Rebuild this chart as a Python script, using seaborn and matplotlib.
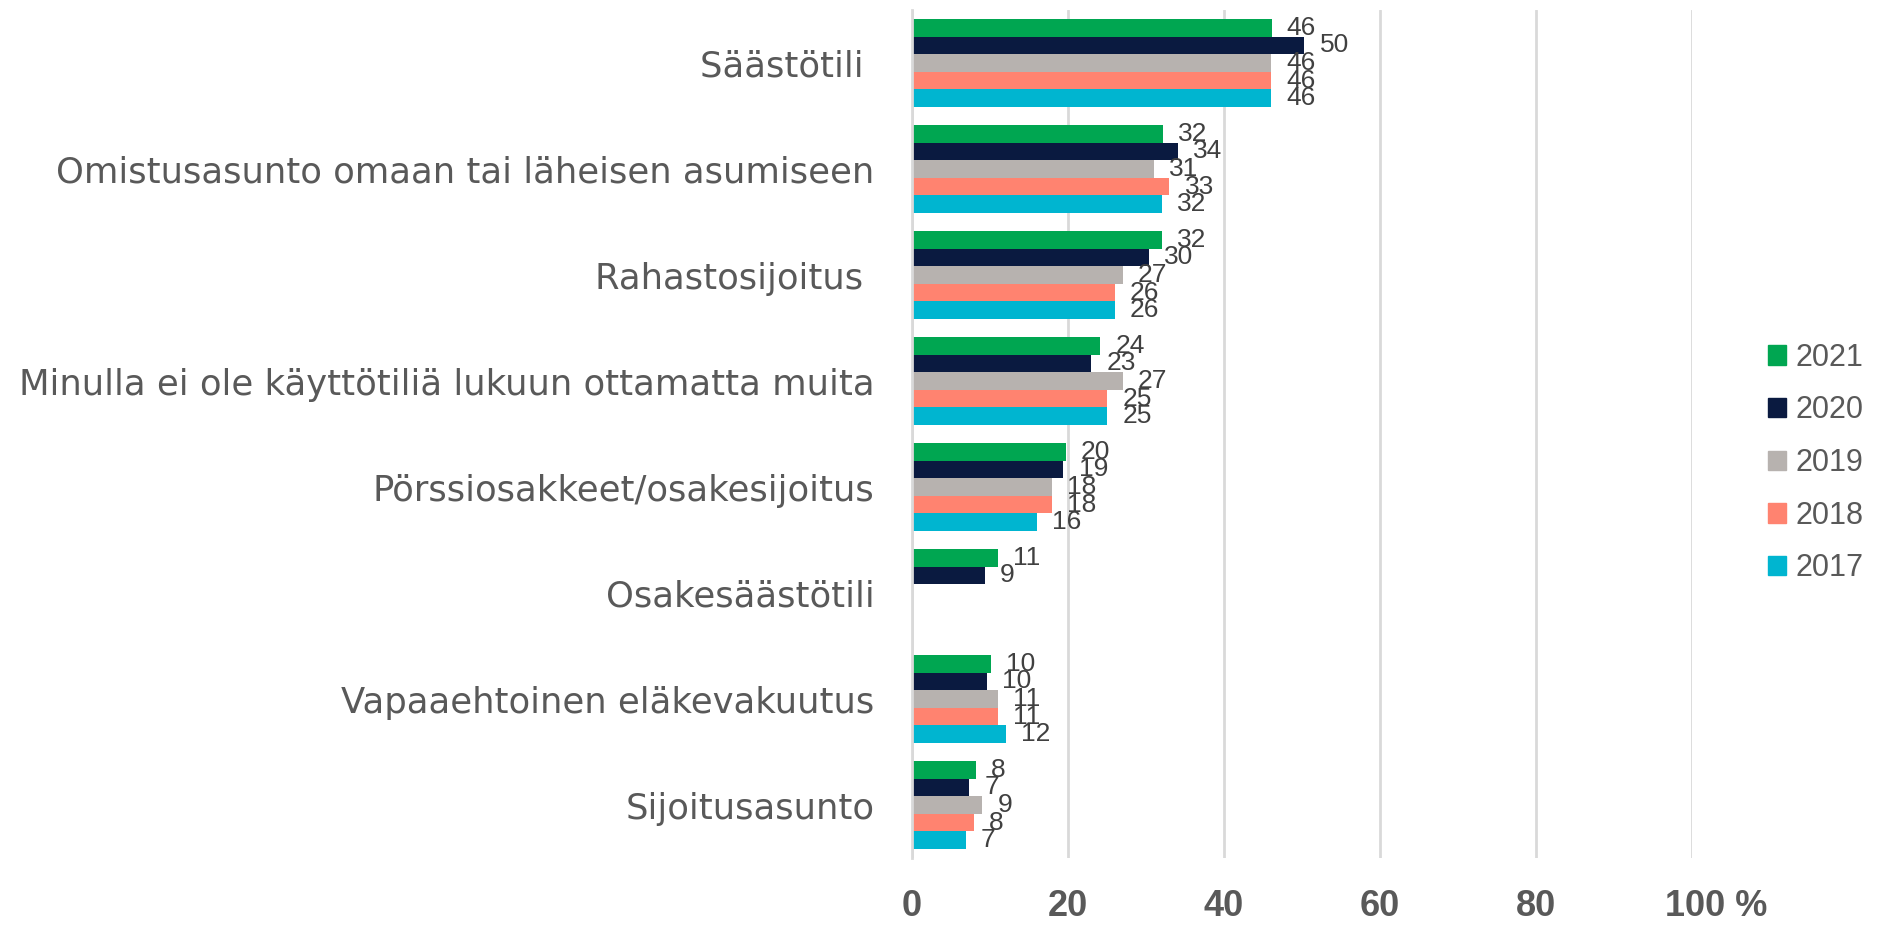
import numpy as np
import pandas as pd
import matplotlib
matplotlib.use("Agg")
import matplotlib.pyplot as plt
import matplotlib.transforms as mtransforms
import seaborn as sns

categories = [
    "Säästötili ",
    "Omistusasunto omaan tai läheisen asumiseen",
    "Rahastosijoitus ",
    "Minulla ei ole käyttötiliä lukuun ottamatta muita",
    "Pörssiosakkeet/osakesijoitus",
    "Osakesäästötili",
    "Vapaaehtoinen eläkevakuutus",
    "Sijoitusasunto",
]
years = ["2021", "2020", "2019", "2018", "2017"]
v2021 = [46.1, 32.2, 32.0, 24.1, 19.7, 11.0, 10.1, 8.2]
v2020 = [50.3, 34.1, 30.4, 23.0, 19.4, 9.3, 9.6, 7.3]
v2019 = [46.0, 31.0, 27.0, 27.0, 17.9, np.nan, 11.0, 9.0]
v2018 = [46.0, 33.0, 26.0, 25.0, 17.9, np.nan, 11.0, 7.9]
v2017 = [46.0, 32.0, 26.0, 25.0, 16.0, np.nan, 12.0, 6.9]
colors = ["#00A651", "#0A1A40", "#B7B2AF", "#FF8370", "#00B5D0"]
xticks = [0, 20, 40, 60, 80, 100]
xticklabels = ["0", "20", "40", "60", "80", "100 %"]

series = [v2021, v2020, v2019, v2018, v2017]
rows = []
for y, vals in zip(years, series):
    for c, v in zip(categories, vals):
        rows.append({"category": c, "year": y, "value": v})
df = pd.DataFrame(rows)

sns.set_theme(style="white")
plt.rcParams["font.family"] = ["DejaVu Sans"]

fig = plt.figure(figsize=(18.78, 9.26), dpi=100)
ax = fig.add_axes([912 / 1878, 1 - 858 / 926, (1692 - 912) / 1878, (858 - 10) / 926])

sns.barplot(data=df, y="category", x="value", hue="year", order=categories,
            hue_order=years, palette=colors, orient="h", width=0.83,
            ax=ax, legend=True, saturation=1, edgecolor="none", linewidth=0)

ax.set_xlim(0, 100)
ax.set_ylim(7.5, -0.5)
ax.set_xlabel("")
ax.set_ylabel("")
ax.set_xticks(xticks)
ax.set_xticklabels(xticklabels, fontsize=26, fontweight="bold", color="#595959",
                   family=["Liberation Sans", "DejaVu Sans"])
ax.tick_params(axis="x", length=0, pad=22)
ax.tick_params(axis="y", length=0, pad=27, labelsize=25.5, labelcolor="#595959")
for sp in ["top", "right", "bottom"]:
    ax.spines[sp].set_visible(False)
ax.spines["left"].set_color("#D9D9D9")
ax.spines["left"].set_linewidth(2)
ax.xaxis.grid(True, color="#D9D9D9", linewidth=2)
ax.set_axisbelow(True)

# "100 %": keep the number centred on its gridline, the % sign hangs to the right
last = ax.get_xticklabels()[-1]
last.set_transform(last.get_transform() +
                   mtransforms.ScaledTranslation(0.24, 0, fig.dpi_scale_trans))

for cont in ax.containers:
    ax.bar_label(cont, fmt=lambda v: f"{v:.0f}", padding=11, fontsize=19,
                 color="#404040", family=["Liberation Sans", "DejaVu Sans"])

ax.get_legend().remove()
handles = [plt.Rectangle((0, 0), 1, 1, color=c) for c in colors]
fig.legend(handles, years, loc="center left", bbox_to_anchor=(1768 / 1878, 1 - 463 / 926),
           frameon=False, labelcolor="#595959", handlelength=0.6,
           handleheight=0.6, handletextpad=0.3, labelspacing=0.74,
           borderpad=0, borderaxespad=0,
           prop={"family": ["Liberation Sans", "DejaVu Sans"], "size": 22})

fig.savefig("out.png", dpi=100)
